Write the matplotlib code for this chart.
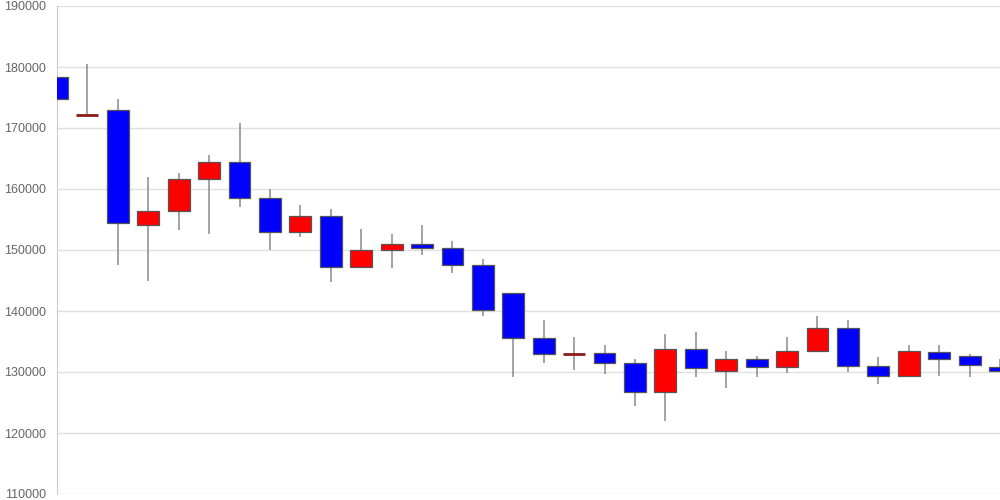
import matplotlib
matplotlib.use("Agg")
import matplotlib.pyplot as plt
import numpy as np

opens = [178400, 172200, 173000, 154100, 156400, 161700, 164500, 158500,
         152900, 155500, 147200, 150000, 151000, 150400, 147600, 143000,
         135500, 133000, 133100, 131400, 126800, 133700, 130100, 132200,
         130800, 133400, 137200, 131000, 129300, 133200, 132700, 130800]
closes = [174800, 172200, 154400, 156400, 161700, 164500, 158500, 152900,
          155500, 147200, 150000, 151000, 150400, 147500, 140100, 135500,
          132900, 133000, 131400, 126800, 133700, 130600, 132200, 130800,
          133400, 137200, 131000, 129300, 133400, 132200, 131200, 130100]
highs = [178400, 180500, 174750, 161900, 162600, 165600, 170900, 159950,
         157400, 156800, 153500, 152600, 154100, 151500, 148500, 143000,
         138500, 135700, 134500, 132200, 136300, 136600, 133400, 132700,
         135700, 139100, 138500, 132400, 134400, 134500, 133000, 132100]
lows = [167000, 172200, 147600, 145000, 153200, 152600, 157100, 150000,
        152200, 144800, 147200, 147000, 149100, 146200, 139100, 129200,
        131400, 130400, 129700, 124500, 122000, 129100, 127300, 129200,
        129900, 133200, 130000, 128000, 129300, 129300, 129200, 130000]
y_ticks = [110000, 120000, 130000, 140000, 150000, 160000, 170000, 180000, 190000]

plt.rcParams['font.family'] = ['Liberation Sans', 'DejaVu Sans']


def draw_candles(ax):
    x = np.arange(len(opens))
    ax.vlines(x, lows, highs, color="#8a8a8a", linewidth=1.1, zorder=2)
    for i in x:
        o, c = opens[i], closes[i]
        if o == c:
            ax.hlines(o, i - 0.36, i + 0.36, color="#8b1a1a", linewidth=2, zorder=3)
            continue
        col = "#0000ff" if c < o else "#ff0000"
        ax.bar(i, abs(c - o), bottom=min(o, c), width=0.72, color=col,
               edgecolor="#555555", linewidth=0.9, zorder=3)


fig = plt.figure(figsize=(10, 5), dpi=100)
ax = fig.add_axes([0.057, 0.012, 0.943, 0.976])
draw_candles(ax)

ax.set_xlim(0, 31)
ax.set_ylim(110000, 190000)
ax.set_yticks(y_ticks)
ax.set_yticklabels([str(v) for v in y_ticks])
ax.set_xticks([])
ax.grid(axis="y", color="#e0e0e0", linewidth=1, zorder=0)
ax.set_axisbelow(True)
for s in ["top", "right", "bottom"]:
    ax.spines[s].set_visible(False)
ax.spines["left"].set_color("#cccccc")
ax.tick_params(axis="y", length=0, labelsize=9, labelcolor="#666666", pad=8)

fig.savefig("out.png", dpi=100)
